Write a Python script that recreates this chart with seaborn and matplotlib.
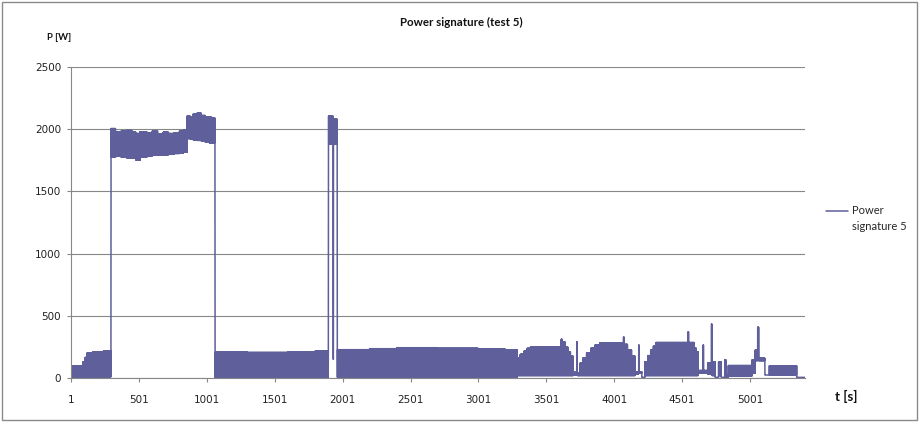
import numpy as np
import pandas as pd
import matplotlib
matplotlib.use("Agg")
import matplotlib.pyplot as plt
import seaborn as sns
from matplotlib.patches import Rectangle

# ---- data (envelope of the power signal) ----
# each segment starts at seg_start [s]; within a segment the signal
# swings between seg_low and seg_high [W]
seg_start = [1, 89, 105, 118, 160, 240,
             296, 330, 370, 410, 450, 480, 510, 560, 600, 640, 680, 720, 760, 800, 830,
             856, 880, 900, 930, 960, 990, 1020, 1040,
             1062, 1300, 1600, 1800,
             1897, 1932, 1934,
             1962, 2200, 2400, 2700, 3000, 3200,
             3288, 3310, 3335, 3360, 3385, 3612, 3618, 3640, 3660, 3680,
             3700, 3725, 3730,
             3749, 3770, 3798, 3830, 3860, 3896, 4070, 4076, 4100, 4130,
             4155, 4181, 4186, 4205,
             4228, 4250, 4270, 4289, 4310, 4545, 4550, 4590, 4605,
             4620, 4655, 4660, 4690, 4717, 4722, 4745, 4770, 4790, 4815, 4825,
             4841, 5016, 5040, 5058, 5065, 5111, 5143, 5345]
seg_high = [95, 130, 165, 200, 210, 218,
            2005, 1975, 1985, 1990, 1975, 1965, 1980, 1970, 1985, 1960, 1975, 1965, 1970, 1985, 1995,
            2105, 2095, 2120, 2130, 2110, 2100, 2095, 2090,
            208, 205, 210, 218,
            2105, 150, 2080,
            228, 236, 244, 238, 232, 226,
            160, 190, 215, 238, 250, 312, 290, 250, 210, 175,
            45, 292, 40,
            120, 160, 200, 240, 265, 282, 328, 270, 225, 175,
            50, 265, 50, 5,
            130, 180, 225, 255, 285, 372, 285, 240, 210,
            60, 265, 60, 120, 434, 130, 5, 130, 5, 145, 20,
            100, 145, 225, 408, 158, 24, 99, 5]
seg_low = [5, 5, 5, 10, 10, 10,
           1775, 1785, 1775, 1770, 1770, 1750, 1775, 1785, 1790, 1790, 1795, 1800, 1805, 1810, 1815,
           1925, 1920, 1915, 1910, 1905, 1895, 1890, 1890,
           5, 5, 5, 5,
           1880, 150, 1880,
           5, 5, 5, 5, 5, 5,
           20, 20, 20, 20, 20, 20, 20, 20, 20, 20,
           25, 40, 20,
           20, 20, 20, 20, 20, 20, 20, 20, 20, 20,
           30, 40, 40, 5,
           20, 20, 20, 20, 20, 20, 20, 20, 20,
           40, 60, 40, 30, 60, 20, 5, 20, 5, 20, 5,
           16, 40, 140, 150, 140, 24, 24, 5]
t_end = 5406
x_ticks = [1, 501, 1001, 1501, 2001, 2501, 3001, 3501, 4001, 4501, 5001]
y_ticks = [0, 500, 1000, 1500, 2000, 2500]
series_name = "Power\nsignature 5"

t = np.arange(1, t_end + 1)
idx = np.searchsorted(np.array(seg_start), t, side="right") - 1
hi = np.array(seg_high)[idx]
lo = np.array(seg_low)[idx]
p = np.where(t % 2 == 0, hi, lo)
df = pd.DataFrame({"t": t, "P": p})

# ---- style ----
sns.set_theme(style="white")
plt.rcParams["font.family"] = ["DejaVu Sans"]
plt.rcParams["path.simplify"] = False

W, H = 919, 422
fig = plt.figure(figsize=(W / 100, H / 100), dpi=100)
ax = fig.add_axes([71 / W, (H - 378) / H, (805 - 71) / W, (378 - 67) / H])

line_col = "#5f5f9c"
grid_col = "#878787"

sns.lineplot(data=df, x="t", y="P", ax=ax, color=line_col, linewidth=1.1,
             estimator=None, label=series_name)

ax.set_xlim(1, t_end)
ax.set_ylim(0, 2500)
ax.set_xticks(x_ticks)
ax.set_yticks(y_ticks)
ax.set_xticklabels([str(v) for v in x_ticks])
ax.set_yticklabels([str(v) for v in y_ticks])
ax.set_xlabel("")
ax.set_ylabel("")

ax.yaxis.grid(True, color=grid_col, linewidth=0.8)
ax.xaxis.grid(False)
ax.set_axisbelow(True)
for s in ["top", "right"]:
    ax.spines[s].set_visible(False)
for s in ["left", "bottom"]:
    ax.spines[s].set_color(grid_col)
    ax.spines[s].set_linewidth(0.8)

ax.tick_params(axis="both", which="major", direction="out", length=3,
               width=0.8, color=grid_col, labelsize=7.5, labelcolor="#222222")
ax.tick_params(axis="x", pad=9, bottom=True)
ax.tick_params(axis="y", pad=4, left=True)

# legend (handle aligned with first text line, as in the reference)
leg = ax.legend(loc="upper left", bbox_to_anchor=(826 / W, 1 - 205 / H),
                bbox_transform=fig.transFigure, frameon=False,
                handlelength=2.0, handletextpad=0.3, borderpad=0, borderaxespad=0,
                prop={"family": "Lato", "size": 8})
for txt in leg.get_texts():
    txt.set_linespacing(1.55)
for h in leg.legend_handles:
    y0 = h.get_ydata()
    h.set_ydata([y + 5.6 for y in y0])

# texts
fig.text(461 / W, 1 - 22 / H, "Power signature (test 5)", ha="center", va="center",
         fontsize=8.3, fontweight="bold", family="Lato", color="#111111")
fig.text(59 / W, 1 - 37.5 / H, "P [W]", ha="center", va="center",
         fontsize=6.8, fontweight="bold", family="Lato", color="#111111")
fig.text(846.5 / W, 1 - 396 / H, "t [s]", ha="center", va="center",
         fontsize=9.5, fontweight="bold", family="Lato", color="#111111")

# outer chart border
fig.add_artist(Rectangle((2 / W, 2 / H), (W - 4) / W, (H - 4) / H,
                         transform=fig.transFigure, fill=False,
                         edgecolor="#8a8a8a", linewidth=1.0))

fig.savefig("out.png", dpi=100)
